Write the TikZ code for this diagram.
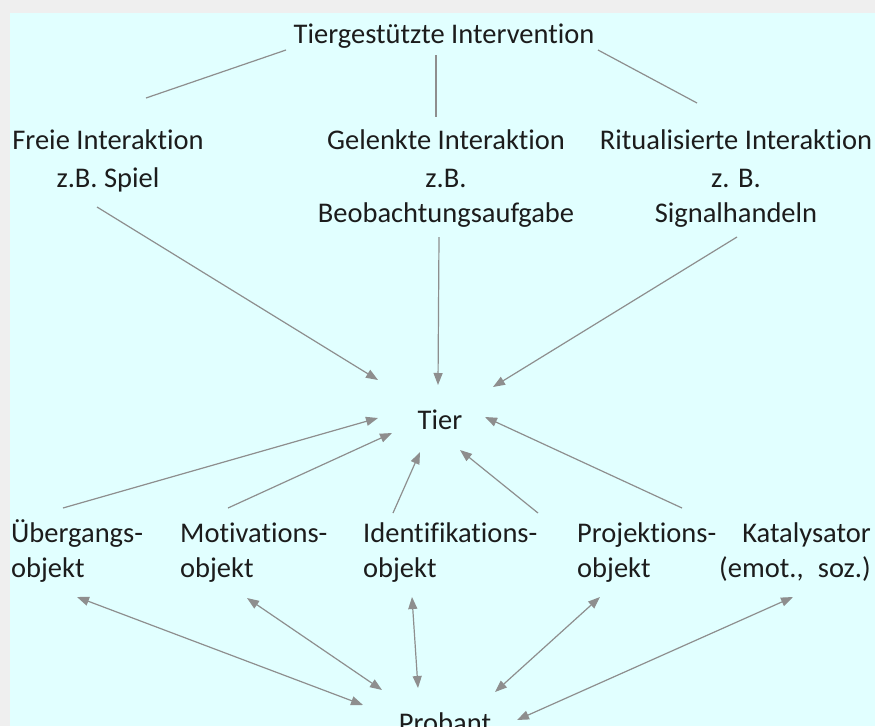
\documentclass[tikz,border=0pt]{standalone}
\usepackage{fontspec}
\setmainfont{Carlito}[Ligatures=NoCommon]
\usetikzlibrary{arrows.meta}
\definecolor{himmel}{HTML}{E1FFFF}
\definecolor{rahmen}{HTML}{EFEFEF}
\definecolor{pfeilgrau}{HTML}{8E8E8E}
\definecolor{schrift}{HTML}{1C1C1C}

\begin{document}
\begin{tikzpicture}[x=1pt, y=-1pt,
  txt/.style={font=\fontsize{28.5}{35}\selectfont, text=schrift, inner sep=0pt},
  linie/.style={pfeilgrau, line width=1.2pt},
  pfeil/.style={linie, -{Triangle[length=12pt,width=9pt]}},
  doppelpfeil/.style={linie, {Triangle[length=12pt,width=9pt]}-{Triangle[length=12pt,width=9pt]}}]
\fill[rahmen] (0,0) rectangle (875,726);
\fill[himmel] (10,13) rectangle (875,726);
\useasboundingbox (0,0) rectangle (875,726);

% oberste Ebene (base = letzte Zeile)
\node[txt, anchor=base] (top) at (444,43) {Tiergestützte Intervention};
\node[txt, anchor=base, align=center] (freie) at (108,187) {Freie Interaktion\\[3pt] z.B. Spiel};
\node[txt, anchor=base, align=center] (gelenkt) at (446,222) {Gelenkte Interaktion\\[3pt] z.B.\\ Beobachtungsaufgabe};
\node[txt, anchor=base, align=center] (ritual) at (736,222) {Ritualisierte Interaktion\\[3pt] z. B.\\ Signalhandeln};

\draw[linie] ([shift={(-158,7)}]top.base) -- ([shift={(38,-89)}]freie.base);
\draw[linie] ([shift={(-8,12)}]top.base) -- ([shift={(-10,-105)}]gelenkt.base);
\draw[linie] ([shift={(154,7)}]top.base) -- ([shift={(-39,-119)}]ritual.base);

% Mitte
\node[txt, anchor=base] (tier) at (440,429) {Tier};

\draw[pfeil] ([shift={(-11,20)}]freie.base) -- ([shift={(-62,-49)}]tier.base);
\draw[pfeil] ([shift={(-7,15)}]gelenkt.base) -- ([shift={(-2,-44)}]tier.base);
\draw[pfeil] ([shift={(1,15)}]ritual.base) -- ([shift={(53,-42)}]tier.base);

% untere Ebene
\node[txt, anchor=base west, align=left] (ueber) at (11,577) {Übergangs-\\ objekt};
\node[txt, anchor=base west, align=left] (motiv) at (180,577) {Motivations-\\ objekt};
\node[txt, anchor=base west, align=left] (ident) at (363,577) {Identifikations-\\ objekt};
\node[txt, anchor=base west, align=left] (proj) at (577,577) {Projektions-\\ objekt};
\node[txt, anchor=base east, align=right] (kata) at (871,577) {Katalysator\\ (emot.,\enspace soz.)};

\draw[pfeil] ([shift={(52,-69)}]ueber.base west) -- ([shift={(-62,-11)}]tier.base);
\draw[pfeil] ([shift={(48,-69)}]motiv.base west) -- ([shift={(-48,4)}]tier.base);
\draw[pfeil] ([shift={(30,-64)}]ident.base west) -- ([shift={(-20,23)}]tier.base);
\draw[pfeil] ([shift={(-39,-64)}]proj.base west) -- ([shift={(20,21)}]tier.base);
\draw[pfeil] ([shift={(-189,-69)}]kata.base east) -- ([shift={(45,-12)}]tier.base);

\node[txt, anchor=base] (probant) at (445,732) {Probant};

\draw[doppelpfeil] ([shift={(66,20)}]ueber.base west) -- ([shift={(-82,-27)}]probant.base);
\draw[doppelpfeil] ([shift={(67,21)}]motiv.base west) -- ([shift={(-63,-42)}]probant.base);
\draw[doppelpfeil] ([shift={(49,20)}]ident.base west) -- ([shift={(-27,-44)}]probant.base);
\draw[doppelpfeil] ([shift={(23,20)}]proj.base west) -- ([shift={(50,-40)}]probant.base);
\draw[doppelpfeil] ([shift={(-78,20)}]kata.base east) -- ([shift={(72,-12)}]probant.base);
\end{tikzpicture}
\end{document}
